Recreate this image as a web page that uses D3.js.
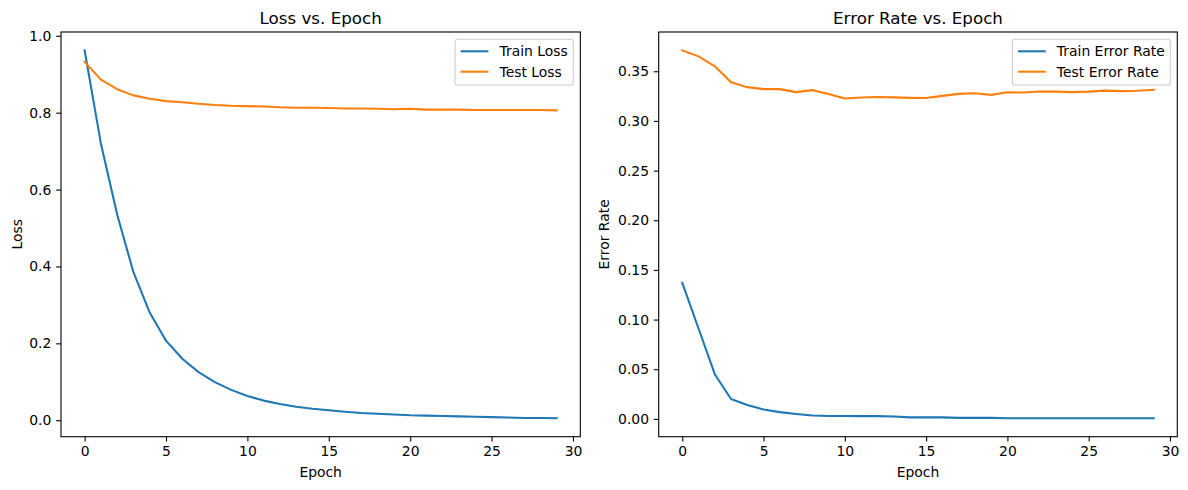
<!DOCTYPE html>
<html>
<head>
<meta charset="utf-8">
<script src="https://cdn.jsdelivr.net/npm/d3@7"></script>
<style>
  html, body { margin: 0; padding: 0; background: #fff; }
  svg { display: block; font-family: "DejaVu Sans", sans-serif; }
</style>
</head>
<body>
<svg id="chart" width="1188" height="490"></svg>
<script>
// ---------- data ----------
const epochs = d3.range(0, 30);
const trainLoss = [0.962, 0.720, 0.535, 0.385, 0.280, 0.207, 0.160, 0.125, 0.099, 0.079,
                   0.063, 0.051, 0.042, 0.035, 0.030, 0.026, 0.022, 0.019, 0.017, 0.015,
                   0.013, 0.012, 0.011, 0.010, 0.009, 0.008, 0.007, 0.006, 0.006, 0.005];
const testLoss  = [0.932, 0.886, 0.861, 0.845, 0.836, 0.830, 0.827, 0.823, 0.820, 0.818,
                   0.817, 0.816, 0.814, 0.813, 0.813, 0.812, 0.811, 0.811, 0.810, 0.809,
                   0.810, 0.808, 0.808, 0.808, 0.807, 0.807, 0.807, 0.807, 0.807, 0.806];
const trainErr  = [0.137, 0.091, 0.045, 0.020, 0.014, 0.0095, 0.0068, 0.005, 0.0035, 0.003,
                   0.003, 0.0028, 0.0028, 0.0025, 0.0015, 0.0015, 0.0015, 0.001, 0.001, 0.001,
                   0.0006, 0.0006, 0.0006, 0.0006, 0.0006, 0.0006, 0.0006, 0.0006, 0.0006, 0.0006];
const testErr   = [0.371, 0.365, 0.355, 0.339, 0.334, 0.332, 0.332, 0.329, 0.331, 0.327,
                   0.3225, 0.3235, 0.324, 0.3237, 0.3232, 0.323, 0.3252, 0.3272, 0.3278, 0.3262,
                   0.3288, 0.3286, 0.3297, 0.3295, 0.329, 0.3295, 0.3305, 0.330, 0.3303, 0.3313];
const xTicks = [0, 5, 10, 15, 20, 25, 30];
const lossTicks = [0.0, 0.2, 0.4, 0.6, 0.8, 1.0];
const errTicks = [0.00, 0.05, 0.10, 0.15, 0.20, 0.25, 0.30, 0.35];
const titles = ["Loss vs. Epoch", "Error Rate vs. Epoch"];
const yLabels = ["Loss", "Error Rate"];
const xLabel = "Epoch";
const lossNames = ["Train Loss", "Test Loss"];
const errNames = ["Train Error Rate", "Test Error Rate"];
const colors = ["#1f77b4", "#ff7f0e"];

// ---------- layout ----------
const svg = d3.select("#chart");
const FS = 13.9;
const panels = [
  { left: 61, right: 580.3, top: 32, bottom: 436.7, series: [trainLoss, testLoss], names: lossNames,
    ticks: lossTicks, fmt: d3.format(".1f"), title: titles[0], ylab: yLabels[0], ylabX: 17 },
  { left: 658.7, right: 1177.3, top: 32, bottom: 436.7, series: [trainErr, testErr], names: errNames,
    ticks: errTicks, fmt: d3.format(".2f"), title: titles[1], ylab: yLabels[1], ylabX: 604 }
];

function padded(lo, hi) { const m = (hi - lo) * 0.05; return [lo - m, hi + m]; }

panels.forEach(p => {
  const x = d3.scaleLinear().domain(padded(d3.min(epochs), d3.max(epochs))).range([p.left, p.right]);
  const all = p.series.flat();
  const y = d3.scaleLinear().domain(padded(d3.min(all), d3.max(all))).range([p.bottom, p.top]);
  const g = svg.append("g");

  // lines
  const line = d3.line().x((d, i) => x(epochs[i])).y(d => y(d));
  p.series.forEach((s, k) => {
    g.append("path").datum(s).attr("d", line)
      .attr("fill", "none").attr("stroke", colors[k]).attr("stroke-width", 2.08)
      .attr("stroke-linejoin", "round").attr("stroke-linecap", "square");
  });

  // axes
  const xa = g.append("g").attr("transform", `translate(0,${p.bottom})`)
    .call(d3.axisBottom(x).tickValues(xTicks).tickFormat(d3.format("d")).tickSize(4.86).tickPadding(4.86).tickSizeOuter(0));
  const ya = g.append("g").attr("transform", `translate(${p.left},0)`)
    .call(d3.axisLeft(y).tickValues(p.ticks).tickFormat(p.fmt).tickSize(4.86).tickPadding(4.86).tickSizeOuter(0));
  [xa, ya].forEach(a => {
    a.select(".domain").remove();
    a.selectAll(".tick line").attr("stroke", "#000").attr("stroke-width", 1.1);
    a.selectAll(".tick text").attr("fill", "#000").style("font-size", FS + "px").style("font-family", "DejaVu Sans");
  });

  // frame
  g.append("rect").attr("x", p.left).attr("y", p.top)
    .attr("width", p.right - p.left).attr("height", p.bottom - p.top)
    .attr("fill", "none").attr("stroke", "#000").attr("stroke-width", 1.1);

  // title
  g.append("text").attr("x", (p.left + p.right) / 2).attr("y", p.top - 8.3)
    .attr("text-anchor", "middle").style("font-size", "16.7px").attr("fill", "#000").text(p.title);
  // x label
  g.append("text").attr("x", (p.left + p.right) / 2).attr("y", 477)
    .attr("text-anchor", "middle").style("font-size", FS + "px").attr("fill", "#000").text(xLabel);
  // y label
  g.append("text").attr("transform", `translate(${p.ylabX + 5},${(p.top + p.bottom) / 2}) rotate(-90)`)
    .attr("text-anchor", "middle").style("font-size", FS + "px").attr("fill", "#000").text(p.ylab);

  // legend
  const lg = g.append("g");
  const tmp = lg.append("g");
  const widths = p.names.map(n => {
    const t = tmp.append("text").style("font-size", FS + "px").text(n);
    const w = t.node().getComputedTextLength(); t.remove(); return w;
  });
  tmp.remove();
  const textW = d3.max(widths);
  const bp = 0.4 * FS, hl = 2.0 * FS, htp = 0.8 * FS, rowH = 20.4;
  const boxW = bp * 2 + hl + htp + textW;
  const boxH = 45.7;
  const bx = p.right - 7 - boxW, by = p.top + 7.3;
  lg.append("rect").attr("x", bx).attr("y", by).attr("width", boxW).attr("height", boxH)
    .attr("rx", 2.8).attr("fill", "rgba(255,255,255,0.8)").attr("stroke", "#cccccc").attr("stroke-width", 1.1);
  p.names.forEach((n, k) => {
    const cy = by + 12 + k * rowH;
    lg.append("line").attr("x1", bx + bp).attr("x2", bx + bp + hl).attr("y1", cy).attr("y2", cy)
      .attr("stroke", colors[k]).attr("stroke-width", 2.08);
    lg.append("text").attr("x", bx + bp + hl + htp).attr("y", cy).attr("dy", "0.36em")
      .style("font-size", FS + "px").attr("fill", "#000").text(n);
  });
});
</script>
</body>
</html>
